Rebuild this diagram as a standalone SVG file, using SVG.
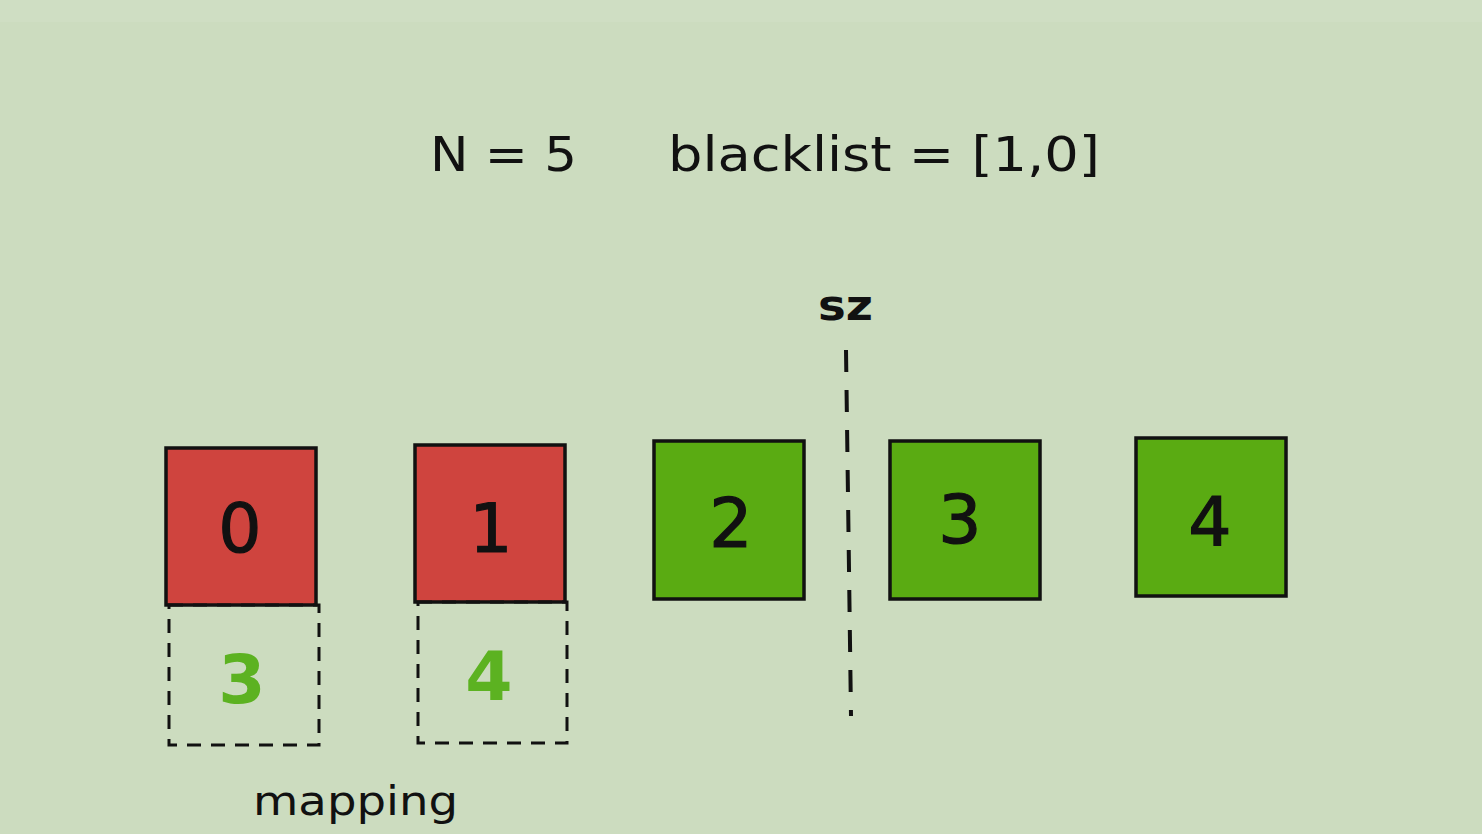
<svg xmlns="http://www.w3.org/2000/svg" width="1482" height="834" viewBox="0 0 1482 834">
<style>
.t{font-family:"DejaVu Sans","Liberation Sans",sans-serif;fill:#111;}
.box{stroke:#111;stroke-width:3.5;}
.red{fill:#cf443e;}
.grn{fill:#5aab12;}
.dash{fill:none;stroke:#111;stroke-width:3;stroke-dasharray:14 10;}
.vdash{fill:none;stroke:#111;stroke-width:4;stroke-dasharray:22 18;}
.num{font-size:68px;text-anchor:middle;stroke:#111;stroke-width:1.2;}
.gnum{font-size:68px;text-anchor:middle;fill:#5cb221;font-weight:bold;}
</style>
<rect x="0" y="0" width="1482" height="834" fill="#ccdcbf"/>
<rect x="0" y="0" width="1482" height="22" fill="#cfdec3"/>
<text class="t" x="430" y="171" font-size="48" textLength="147" lengthAdjust="spacingAndGlyphs">N = 5</text>
<text class="t" x="668" y="171" font-size="48" textLength="432" lengthAdjust="spacingAndGlyphs">blacklist = [1,0]</text>
<g id="node0">
<rect class="box red" x="166" y="448" width="150" height="157"/>
<text class="t num" x="240" y="552">0</text>
</g>
<g id="map0">
<rect class="dash" x="169" y="605" width="150" height="140"/>
<text class="t gnum" x="242" y="703">3</text>
</g>
<g id="node1">
<rect class="box red" x="415" y="445" width="150" height="157"/>
<text class="t num" x="491" y="552">1</text>
</g>
<g id="map1">
<rect class="dash" x="418" y="602" width="149" height="141"/>
<text class="t gnum" x="489" y="700">4</text>
</g>
<g id="node2">
<rect class="box grn" x="654" y="441" width="150" height="158"/>
<text class="t num" x="731" y="547">2</text>
</g>
<g id="node3">
<rect class="box grn" x="890" y="441" width="150" height="158"/>
<text class="t num" x="960" y="543">3</text>
</g>
<g id="node4">
<rect class="box grn" x="1136" y="438" width="150" height="158"/>
<text class="t num" x="1210" y="546">4</text>
</g>
<g id="connectors">
<line class="vdash" x1="846" y1="350" x2="851" y2="716"/>
</g>
<text class="t" x="818" y="320" font-size="42" font-weight="bold" textLength="55" lengthAdjust="spacingAndGlyphs">sz</text>
<text class="t" x="253" y="815" font-size="40" textLength="205" lengthAdjust="spacingAndGlyphs">mapping</text>
</svg>
